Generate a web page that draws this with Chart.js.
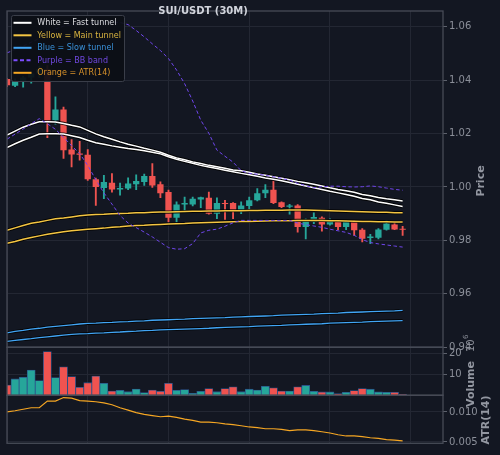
<!DOCTYPE html>
<html><head><meta charset="utf-8">
<script src="https://cdn.jsdelivr.net/npm/chart.js@4.4.1/dist/chart.umd.min.js"></script>
<style>html,body{margin:0;padding:0;background:#131722;}#wrap{width:500px;height:455px;position:relative;}</style>
</head><body><div id="wrap"><canvas id="c"></canvas></div>
<script>
// ---------- data ----------
const candleIndex = [0,1,2,3,4,5,6,7,8,9,10,11,12,13,14,15,16,17,18,19,20,21,22,23,24,25,26,27,28,29,30,31,32,33,34,35,36,37,38,39,40,41,42,43,44,45,46,47,48,49];
const opens  = [1.0404,1.0379,1.0396,1.0410,1.0425,1.0442,1.0250,1.0290,1.0140,1.0125,1.0121,1.0029,0.9996,1.0016,0.9991,0.9994,1.0010,1.0019,1.0041,1.0010,0.9981,0.9885,0.9934,0.9934,0.9953,0.9960,0.9900,0.9940,0.9940,0.9913,0.9929,0.9950,0.9977,0.9990,0.9943,0.9926,0.9931,0.9850,0.9869,0.9885,0.9860,0.9869,0.9850,0.9869,0.9840,0.9809,0.9810,0.9840,0.9860,0.9844];
const highs  = [1.0406,1.0405,1.0414,1.0430,1.0452,1.0455,1.0338,1.0299,1.0178,1.0171,1.0140,1.0033,1.0044,1.0050,1.0015,1.0034,1.0046,1.0048,1.0088,1.0019,0.9988,0.9944,0.9962,0.9962,0.9962,0.9981,0.9959,0.9950,0.9942,0.9944,0.9962,0.9994,1.0009,1.0029,0.9944,0.9935,0.9934,0.9881,0.9903,0.9888,0.9881,0.9875,0.9875,0.9875,0.9844,0.9823,0.9844,0.9875,0.9869,0.9853];
const lows   = [1.0376,1.0376,1.0374,1.0389,1.0410,1.0185,1.0235,1.0107,1.0075,1.0100,1.0025,0.9931,0.9956,0.9981,0.9969,0.9990,0.9990,1.0006,0.9998,0.9960,0.9869,0.9869,0.9906,0.9929,0.9923,0.9898,0.9881,0.9879,0.9881,0.9900,0.9916,0.9948,0.9960,0.9938,0.9923,0.9898,0.9831,0.9806,0.9863,0.9835,0.9857,0.9840,0.9840,0.9819,0.9794,0.9788,0.9806,0.9838,0.9840,0.9819];
const closes = [1.0381,1.0398,1.0410,1.0425,1.0442,1.0248,1.0290,1.0138,1.0122,1.0121,1.0029,1.0000,1.0019,0.9991,0.9996,1.0013,1.0022,1.0041,1.0006,0.9977,0.9885,0.9934,0.9940,0.9956,0.9962,0.9900,0.9940,0.9936,0.9910,0.9931,0.9950,0.9977,0.9990,0.9940,0.9925,0.9931,0.9850,0.9875,0.9888,0.9860,0.9873,0.9850,0.9869,0.9838,0.9806,0.9815,0.9841,0.9863,0.9841,0.9840];
const volumeMillions = [4.9,7.8,8.6,12.0,7.0,20.8,8.4,13.6,8.9,3.8,6.0,9.2,5.7,2.0,2.4,1.7,3.0,1.3,2.5,1.9,5.7,2.4,2.7,0.9,1.9,3.2,1.7,3.2,4.0,1.7,2.9,2.5,4.3,3.6,2.0,2.0,4.0,4.7,1.9,1.6,1.6,0.8,1.4,2.2,3.2,2.9,1.6,1.4,1.4,0.5];
const atr14 = [0.0100,0.0102,0.01045,0.0107,0.0107,0.0118,0.0118,0.0124,0.0123,0.0119,0.0118,0.0117,0.0115,0.0112,0.0107,0.0103,0.0099,0.0096,0.0094,0.0092,0.0093,0.0091,0.0088,0.0086,0.0083,0.0083,0.0082,0.0080,0.0079,0.0077,0.0075,0.0074,0.0072,0.0072,0.0071,0.0069,0.0070,0.0070,0.0069,0.0067,0.0065,0.0062,0.0060,0.0060,0.0059,0.0057,0.0056,0.0054,0.0053,0.0052];
const fastUpper = [1.0194,1.0209,1.0224,1.0235,1.0244,1.0244,1.0243,1.0238,1.0231,1.0225,1.0212,1.0199,1.0188,1.0179,1.0169,1.0160,1.0153,1.0145,1.0138,1.0130,1.0119,1.0109,1.0102,1.0094,1.0088,1.0081,1.0076,1.0070,1.0064,1.0061,1.0055,1.0049,1.0044,1.0038,1.0033,1.0027,1.0021,1.0016,1.0010,1.0004,0.9997,0.9991,0.9986,0.9980,0.9972,0.9967,0.9961,0.9956,0.9952,0.9948];
const fastLower = [1.0148,1.0162,1.0175,1.0186,1.0198,1.0199,1.0199,1.0198,1.0192,1.0185,1.0175,1.0166,1.0160,1.0154,1.0149,1.0144,1.0140,1.0136,1.0130,1.0124,1.0113,1.0104,1.0096,1.0089,1.0081,1.0075,1.0069,1.0063,1.0057,1.0051,1.0046,1.0040,1.0034,1.0029,1.0023,1.0017,1.0010,1.0004,0.9997,0.9991,0.9984,0.9978,0.9972,0.9965,0.9957,0.9952,0.9944,0.9939,0.9933,0.9927];
const mainUpper = [0.9838,0.9847,0.9856,0.9864,0.9869,0.9875,0.9881,0.9884,0.9888,0.9892,0.9895,0.9897,0.9898,0.9900,0.9901,0.9902,0.9904,0.9904,0.9905,0.9906,0.9906,0.9907,0.9908,0.9909,0.9909,0.9910,0.9910,0.9911,0.9911,0.9911,0.9912,0.9912,0.9913,0.9913,0.9913,0.9914,0.9914,0.9914,0.9913,0.9912,0.9911,0.9910,0.9909,0.9908,0.9907,0.9906,0.9905,0.9905,0.9904,0.9904];
const mainLower = [0.9789,0.9796,0.9804,0.9811,0.9817,0.9823,0.9828,0.9832,0.9836,0.9839,0.9842,0.9844,0.9846,0.9849,0.9851,0.9854,0.9856,0.9857,0.9859,0.9860,0.9861,0.9862,0.9863,0.9865,0.9866,0.9867,0.9868,0.9869,0.9870,0.9871,0.9871,0.9872,0.9873,0.9874,0.9874,0.9874,0.9875,0.9875,0.9875,0.9875,0.9874,0.9874,0.9873,0.9872,0.9871,0.9871,0.9870,0.9870,0.9869,0.9869];
const slowUpper = [0.9454,0.9459,0.9463,0.9468,0.9471,0.9475,0.9478,0.9481,0.9484,0.9487,0.9489,0.9490,0.9492,0.9493,0.9495,0.9496,0.9498,0.9499,0.9501,0.9502,0.9503,0.9504,0.9505,0.9507,0.9508,0.9509,0.9510,0.9511,0.9513,0.9514,0.9515,0.9516,0.9517,0.9518,0.9520,0.9521,0.9522,0.9523,0.9524,0.9526,0.9527,0.9528,0.9530,0.9531,0.9532,0.9533,0.9534,0.9535,0.9536,0.9538];
const slowLower = [0.9422,0.9426,0.9429,0.9432,0.9436,0.9439,0.9442,0.9445,0.9448,0.9450,0.9451,0.9453,0.9454,0.9456,0.9457,0.9459,0.9460,0.9462,0.9463,0.9465,0.9466,0.9467,0.9468,0.9469,0.9470,0.9471,0.9473,0.9474,0.9475,0.9476,0.9477,0.9479,0.9480,0.9481,0.9482,0.9484,0.9485,0.9486,0.9487,0.9488,0.9490,0.9491,0.9492,0.9493,0.9494,0.9496,0.9497,0.9498,0.9499,0.9500];
const bbUpper = [1.0502,1.0515,1.0528,1.0542,1.0556,1.0575,1.0592,1.0602,1.0608,1.0612,1.0614,1.0615,1.0616,1.0617,1.0616,1.0608,1.0586,1.0562,1.0536,1.0511,1.0481,1.0438,1.0387,1.0322,1.0250,1.0201,1.0138,1.0115,1.0093,1.0061,1.0051,1.0048,1.0044,1.0038,1.0033,1.0025,1.0014,1.0005,0.9997,1.0001,1.0003,1.0003,1.0001,1.0000,1.0001,1.0004,1.0001,0.9996,0.9991,0.9988];
const bbLower = [1.0179,1.0198,1.0217,1.0237,1.0256,1.0237,1.0216,1.0186,1.0155,1.0125,1.0081,1.0027,0.9978,0.9936,0.9893,0.9865,0.9848,0.9831,0.9813,0.9793,0.9773,0.9767,0.9769,0.9788,0.9828,0.9838,0.9842,0.9853,0.9866,0.9875,0.9875,0.9875,0.9875,0.9875,0.9875,0.9875,0.9865,0.9859,0.9854,0.9849,0.9842,0.9836,0.9830,0.9819,0.9803,0.9792,0.9787,0.9783,0.9779,0.9775];
const priceTicks = [0.94,0.96,0.98,1.00,1.02,1.04,1.06];
const volumeTicks = [10,20];
const atrTicks = [0.005,0.010];
const titleText = 'SUI/USDT (30M)';
const legendItems = [
  {label:'White = Fast tunnel', color:'#ffffff', text:'#dcdde0', dash:false},
  {label:'Yellow = Main tunnel', color:'#f4c542', text:'#d9b440', dash:false},
  {label:'Blue = Slow tunnel', color:'#42a5f5', text:'#3a91d8', dash:false},
  {label:'Purple = BB band', color:'#7c4dff', text:'#7048e0', dash:true},
  {label:'Orange = ATR(14)', color:'#f5a623', text:'#d8922a', dash:false}
];

// ---------- styling ----------
const BG = '#131722', GRID = '#232733', FRAME = '#474b57', TICK = '#8b8f99';
const UP = '#26a69a', DOWN = '#ef5350';
const WHITE = '#ffffff', YELLOW = '#f4c542', BLUE = '#42a5f5', PURPLE = '#7046ec', ORANGE = '#f5a623';
Chart.defaults.font.family = "'DejaVu Sans', sans-serif";
Chart.defaults.font.size = 10;
Chart.defaults.color = TICK;

const isUp = i => closes[i] >= opens[i];
const pts = arr => arr.map((v, i) => ({x: candleIndex[i], y: v}));
const candleColor = ctx => isUp(ctx.dataIndex) ? UP : DOWN;

function lineDs(arr, color, width, order, extra) {
  return Object.assign({type:'line', data: pts(arr), borderColor: color, borderWidth: width, pointRadius: 0,
    tension: 0, yAxisID: 'y', order: order, fill: false}, extra || {});
}
const OUT = 'rgba(0,0,0,0.85)';

const datasets = [
  lineDs(slowUpper, OUT, 3, 9), lineDs(slowLower, OUT, 3, 9),
  lineDs(mainUpper, OUT, 3.2, 9), lineDs(mainLower, OUT, 3.2, 9),
  lineDs(fastUpper, OUT, 3.4, 9), lineDs(fastLower, OUT, 3.4, 9),
  lineDs(slowUpper, BLUE, 1.3, 8), lineDs(slowLower, BLUE, 1.3, 8),
  lineDs(mainUpper, YELLOW, 1.5, 7), lineDs(mainLower, YELLOW, 1.5, 7),
  lineDs(fastUpper, WHITE, 1.5, 6), lineDs(fastLower, WHITE, 1.5, 6),
  lineDs(bbUpper, PURPLE, 1, 5, {borderDash:[3.5,2.5]}),
  lineDs(bbLower, PURPLE, 1, 5, {borderDash:[3.5,2.5]}),
  {type:'bar', data: candleIndex.map((x, i) => ({x, y:[lows[i], highs[i]]})), backgroundColor: candleColor,
   barThickness: 1.2, grouped: false, yAxisID: 'y', order: 12},
  {type:'bar', data: candleIndex.map((x, i) => ({x, y:[opens[i], closes[i]]})), backgroundColor: candleColor,
   categoryPercentage: 1, barPercentage: 0.78, grouped: false, yAxisID: 'y', order: 11, minBarLength: 1},
  {type:'bar', data: pts(volumeMillions), backgroundColor: candleColor, borderColor: 'rgba(45,90,150,0.9)',
   borderWidth: 0.8, categoryPercentage: 1, barPercentage: 1, grouped: false, yAxisID: 'yVol', order: 10},
  {type:'line', data: pts(atr14), borderColor: ORANGE, borderWidth: 1.2, pointRadius: 0, tension: 0,
   yAxisID: 'yAtr', order: 4}
];

const commonY = {
  position: 'right', stack: 'panes', border: {display: false},
  grid: {color: GRID, lineWidth: 1, drawTicks: true, tickLength: 4, tickColor: '#5d616c'},
  ticks: {padding: 2, color: TICK, font: {size: 10}, autoSkip: false},
  afterFit: s => { s.width = 57; }
};

const decor = {
  id: 'decor',
  beforeDraw(chart) {
    const c = chart.ctx; c.save(); c.fillStyle = BG; c.fillRect(0, 0, chart.width, chart.height); c.restore();
  },
  afterDatasetsDraw(chart) {
    const c = chart.ctx, a = chart.chartArea;
    c.save(); c.strokeStyle = FRAME; c.lineWidth = 1.3;
    ['y', 'yVol', 'yAtr'].forEach(id => {
      const s = chart.scales[id];
      c.strokeRect(a.left, s.top, a.right - a.left, s.bottom - s.top);
    });
    c.restore();
  },
  afterDraw(chart) {
    const c = chart.ctx;
    c.save();
    const lx = 11, ly = 15, lw = 113, lh = 66;
    c.fillStyle = 'rgba(12,15,21,0.93)';
    c.strokeStyle = '#3a3e49'; c.lineWidth = 1;
    c.beginPath(); c.roundRect(lx + 0.5, ly + 0.5, lw, lh, 2); c.fill(); c.stroke();
    c.font = "8px 'DejaVu Sans'"; c.textBaseline = 'middle'; c.textAlign = 'left';
    legendItems.forEach((it, k) => {
      const y = 22.8 + k * 12.5;
      c.strokeStyle = it.color; c.lineWidth = 2;
      c.setLineDash(it.dash ? [4, 2.5] : []);
      c.beginPath(); c.moveTo(13.5, y); c.lineTo(31.5, y); c.stroke();
      c.setLineDash([]);
      c.fillStyle = it.text; c.fillText(it.label, 37.3, y + 0.3);
    });
    c.font = "bold 10px 'DejaVu Sans'"; c.fillStyle = '#d1d4dc'; c.textAlign = 'center';
    c.fillText(titleText, 203, 11.5);
    const vtext = (t, x, y, font, color) => {
      c.save(); c.translate(x, y); c.rotate(-Math.PI / 2);
      c.font = font; c.fillStyle = color; c.textAlign = 'center'; c.textBaseline = 'middle';
      c.fillText(t, 0, 0); c.restore();
    };
    vtext('Price', 481, 181, "bold 11px 'DejaVu Sans'", '#9397a1');
    vtext('Volume', 471, 384, "bold 11px 'DejaVu Sans'", '#9397a1');
    vtext('ATR(14)', 486, 420, "bold 11px 'DejaVu Sans'", '#9397a1');
    c.save(); c.translate(471, 352); c.rotate(-Math.PI / 2);
    c.fillStyle = TICK; c.textBaseline = 'middle'; c.textAlign = 'left';
    c.font = "10px 'DejaVu Sans'"; c.fillText('10', 0, 0);
    c.font = "7px 'DejaVu Sans'"; c.fillText('6', 13, -5);
    c.restore();
    c.restore();
  }
};

new Chart(document.getElementById('c'), {
  data: {datasets},
  options: {
    responsive: true, maintainAspectRatio: false, animation: false,
    layout: {padding: {left: 7, right: 0, top: 11, bottom: 11.7}},
    plugins: {legend: {display: false}, tooltip: {enabled: false}, title: {display: false}},
    scales: {
      x: {type: 'linear', min: 0, max: 54, offset: false, border: {display: false},
          ticks: {display: false, stepSize: 10, includeBounds: false},
          grid: {color: GRID, drawTicks: false, offset: false},
          afterFit: s => { s.height = 0; }},
      y: Object.assign({}, commonY, {min: 0.94, max: 1.0659, stackWeight: 7,
          ticks: Object.assign({}, commonY.ticks, {callback: v => v.toFixed(2)}),
          afterBuildTicks: s => { s.ticks = priceTicks.map(v => ({value: v})); }}),
      yVol: Object.assign({}, commonY, {min: 0, max: 22.9, stackWeight: 1,
          ticks: Object.assign({}, commonY.ticks, {callback: v => String(v)}),
          afterBuildTicks: s => { s.ticks = volumeTicks.map(v => ({value: v})); }}),
      yAtr: Object.assign({}, commonY, {min: 0.00478, max: 0.01278, stackWeight: 1,
          ticks: Object.assign({}, commonY.ticks, {callback: v => v.toFixed(3)}),
          afterBuildTicks: s => { s.ticks = atrTicks.map(v => ({value: v})); }})
    }
  },
  plugins: [decor]
});
</script>
</body></html>
